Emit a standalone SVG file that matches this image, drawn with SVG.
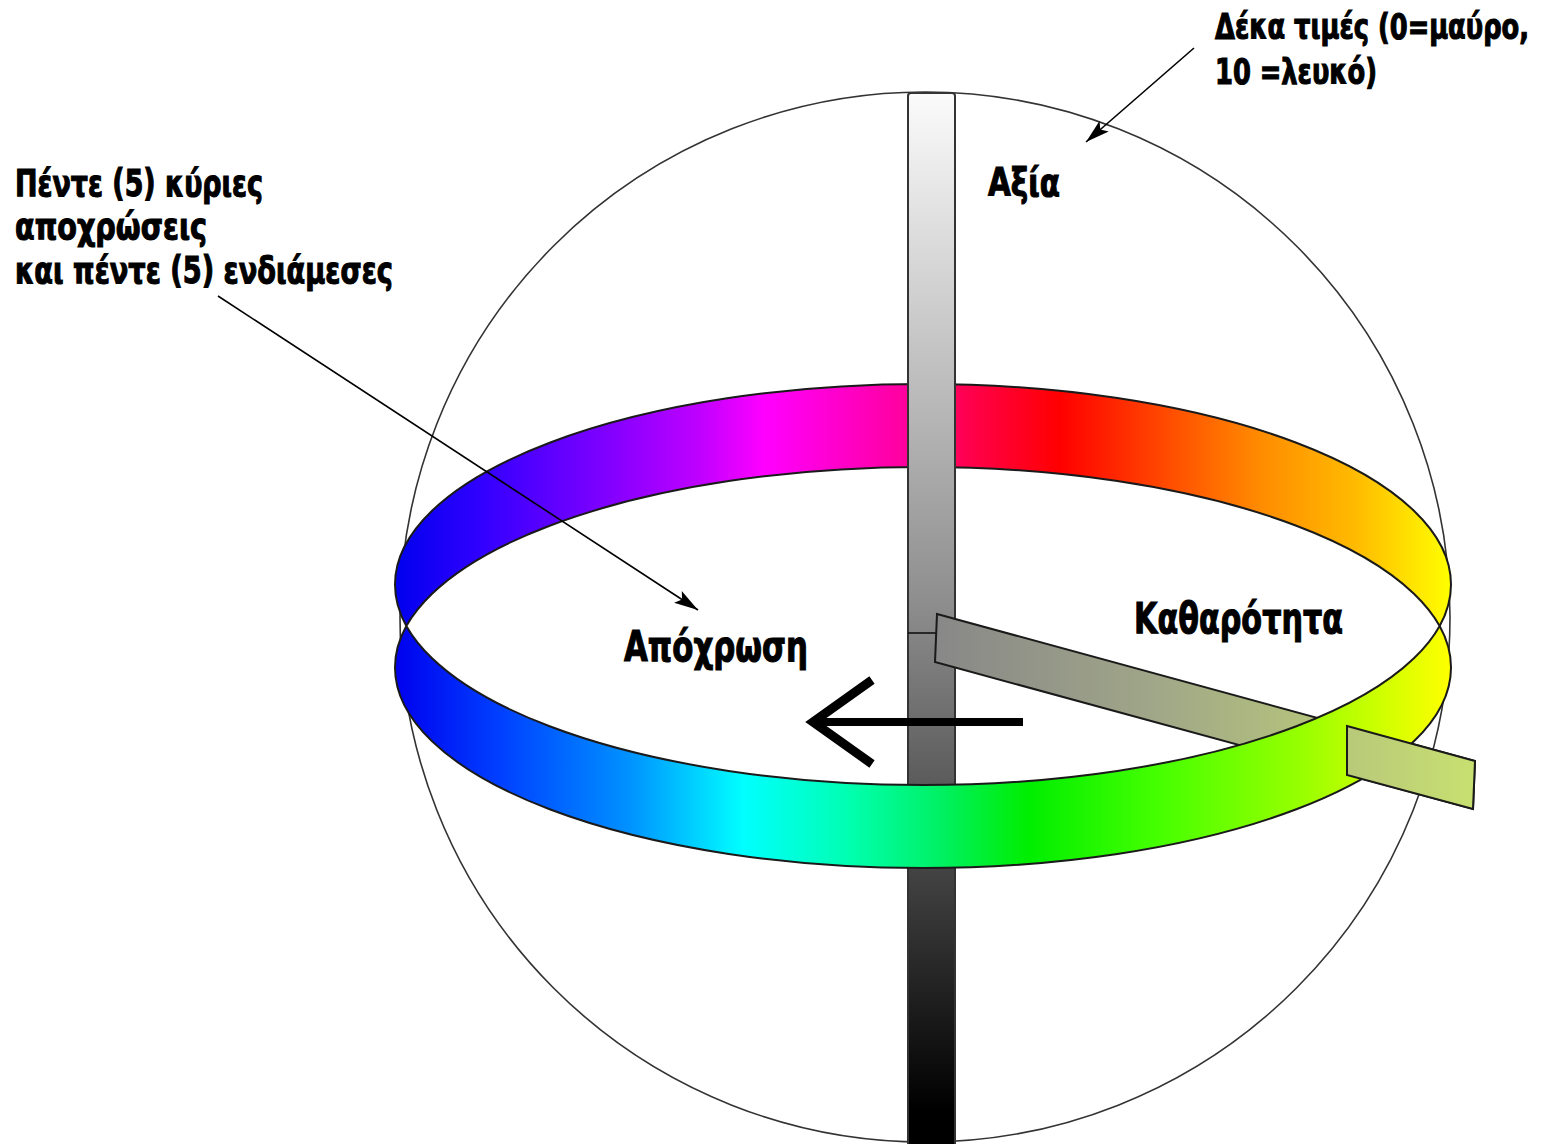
<svg xmlns="http://www.w3.org/2000/svg" width="1545" height="1144" viewBox="0 0 1545 1144">
<defs>
<style>
.lbl{font-family:"DejaVu Sans Condensed","DejaVu Sans",sans-serif;font-weight:bold;font-stretch:condensed;fill:#000;stroke:#000;stroke-width:0.9}
.ptr{stroke:#000;stroke-width:1.6;fill:none}
.edge{stroke:#1a1a1a;stroke-width:2}
</style>
<marker id="ah" markerUnits="userSpaceOnUse" markerWidth="26" markerHeight="16" refX="24" refY="8" orient="auto">
<path d="M0,1 L24,8 L0,15 L5,8 Z" fill="#000"/>
</marker>
<linearGradient id="gBack" gradientUnits="userSpaceOnUse" x1="395" y1="0" x2="1451" y2="0">
<stop offset="0" stop-color="#0000ee"/>
<stop offset="0.08" stop-color="#3000ff"/>
<stop offset="0.2" stop-color="#8000ff"/>
<stop offset="0.29" stop-color="#c000ff"/>
<stop offset="0.35" stop-color="#ff00ff"/>
<stop offset="0.48" stop-color="#ff00a0"/>
<stop offset="0.54" stop-color="#ff0050"/>
<stop offset="0.63" stop-color="#ff0000"/>
<stop offset="0.73" stop-color="#ff4a00"/>
<stop offset="0.82" stop-color="#ff8c00"/>
<stop offset="0.91" stop-color="#ffbb00"/>
<stop offset="1" stop-color="#ffff00"/>
</linearGradient>
<linearGradient id="gFront" gradientUnits="userSpaceOnUse" x1="395" y1="0" x2="1451" y2="0">
<stop offset="0" stop-color="#0000ee"/>
<stop offset="0.1" stop-color="#0040ff"/>
<stop offset="0.22" stop-color="#0090ff"/>
<stop offset="0.33" stop-color="#00ffff"/>
<stop offset="0.43" stop-color="#00ffb0"/>
<stop offset="0.52" stop-color="#00f060"/>
<stop offset="0.6" stop-color="#00ee00"/>
<stop offset="0.72" stop-color="#44ff00"/>
<stop offset="0.86" stop-color="#99ff00"/>
<stop offset="1" stop-color="#ffff00"/>
</linearGradient>
<linearGradient id="gVal" gradientUnits="userSpaceOnUse" x1="0" y1="93" x2="0" y2="1110">
<stop offset="0" stop-color="#fbfbfb"/>
<stop offset="0.5" stop-color="#8e8e8e"/>
<stop offset="1" stop-color="#000000"/>
</linearGradient>
<linearGradient id="gSat" gradientUnits="userSpaceOnUse" x1="937" y1="0" x2="1475" y2="0">
<stop offset="0" stop-color="#888888"/>
<stop offset="0.4" stop-color="#a0a688"/>
<stop offset="1" stop-color="#c8e070"/>
</linearGradient>
<clipPath id="cTop"><rect x="0" y="0" width="1545" height="626"/></clipPath>
<clipPath id="cBot"><rect x="0" y="626" width="1545" height="518"/></clipPath>
<path id="band" d="M395,584.5 A528,200.5 0 1,0 1451,584.5 A528,200.5 0 1,0 395,584.5 Z M395,667.5 A528,200.5 0 1,0 1451,667.5 A528,200.5 0 1,0 395,667.5 Z"/>
</defs>
<rect width="1545" height="1144" fill="#fff"/>

<g id="sphere">
<circle cx="925" cy="617" r="525" fill="none" stroke="#333" stroke-width="1.6"/>
</g>

<g id="hue-ring-back" clip-path="url(#cTop)">
<use href="#band" fill="url(#gBack)" fill-rule="evenodd" class="edge"/>
</g>

<g id="value-axis">
<rect x="908" y="93" width="47" height="1070" rx="3" fill="url(#gVal)" stroke="#333" stroke-width="2"/>
<line x1="908" y1="633" x2="937" y2="633" stroke="#111" stroke-width="1.6"/>
</g>

<g id="chroma-axis">
<polygon points="937,614 1475,761 1473,809 935,662" fill="url(#gSat)" stroke="#1a1a1a" stroke-width="2"/>
</g>

<g id="hue-ring-front" clip-path="url(#cBot)">
<use href="#band" fill="url(#gFront)" fill-rule="evenodd" class="edge"/>
</g>

<g id="chroma-axis-tip">
<polygon points="1347,726 1475,761 1473,809 1347,775" fill="url(#gSat)" stroke="#1a1a1a" stroke-width="2"/>
</g>

<g id="hue-direction">
<line x1="1023" y1="722" x2="818" y2="722" stroke="#000" stroke-width="8"/>
<polyline points="872,680 813,722 872,764" fill="none" stroke="#000" stroke-width="9" stroke-linejoin="miter"/>
</g>

<g id="connectors">
<line class="ptr" x1="1194" y1="48" x2="1086" y2="142" marker-end="url(#ah)"/>
<line class="ptr" x1="218" y1="296" x2="698" y2="610" marker-end="url(#ah)"/>
</g>

<g id="label-values">
<text class="lbl" transform="translate(1215,39) scale(1,1.2)" font-size="29" textLength="314" lengthAdjust="spacingAndGlyphs">Δέκα τιμές (0=μαύρο,</text>
<text class="lbl" transform="translate(1215,84) scale(1,1.2)" font-size="29" textLength="162" lengthAdjust="spacingAndGlyphs">10 =λευκό)</text>
</g>
<g id="label-hues">
<text class="lbl" transform="translate(15,196) scale(1,1.2)" font-size="31" textLength="248" lengthAdjust="spacingAndGlyphs">Πέντε (5) κύριες</text>
<text class="lbl" transform="translate(15,239) scale(1,1.2)" font-size="31" textLength="192" lengthAdjust="spacingAndGlyphs">αποχρώσεις</text>
<text class="lbl" transform="translate(15,283) scale(1,1.2)" font-size="31" textLength="378" lengthAdjust="spacingAndGlyphs">και πέντε (5) ενδιάμεσες</text>
</g>
<g id="label-value">
<text class="lbl" transform="translate(988,196) scale(1,1.2)" font-size="33" textLength="72" lengthAdjust="spacingAndGlyphs">Αξία</text>
</g>
<g id="label-hue">
<text class="lbl" transform="translate(624,661) scale(1,1.2)" font-size="36" textLength="184" lengthAdjust="spacingAndGlyphs">Απόχρωση</text>
</g>
<g id="label-chroma">
<text class="lbl" transform="translate(1134,633) scale(1,1.2)" font-size="36" textLength="209" lengthAdjust="spacingAndGlyphs">Καθαρότητα</text>
</g>
</svg>
